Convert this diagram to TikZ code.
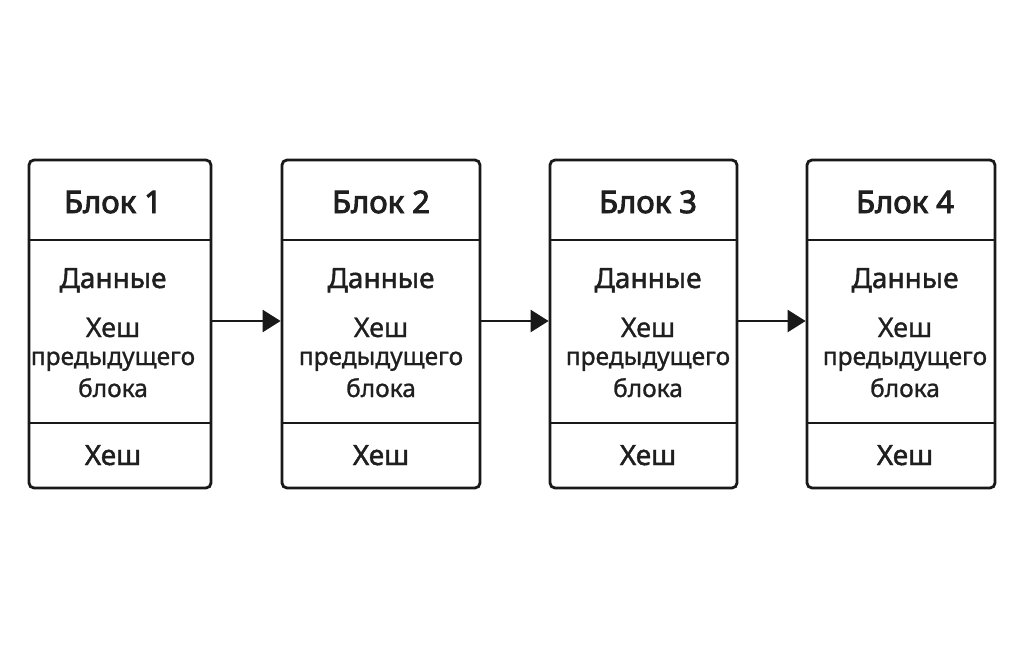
\documentclass[tikz,border=0pt]{standalone}
\usepackage{fontspec}
\setmainfont{Noto Sans}
\newfontfamily\titlefont{Noto Sans}[FakeBold=3]
\newfontfamily\medfont{Noto Sans}[FakeBold=1.6]
\newfontfamily\regfont{Noto Sans}[FakeBold=1.0]
\usetikzlibrary{arrows.meta}
\begin{document}
\begin{tikzpicture}[x=1pt,y=-1pt,
  blockbox/.style={draw=black!90, line width=2.8pt, rounded corners=5pt, inner sep=0pt},
  divider/.style={draw=black!90, line width=2.5pt},
  titletxt/.style={font=\titlefont\fontsize{31}{34}\selectfont, text=black!88, inner sep=0pt, anchor=base},
  datatxt/.style={font=\medfont\fontsize{28}{30}\selectfont, text=black!88, inner sep=0pt, anchor=base},
  hashtxt/.style={font=\regfont\fontsize{27}{30}\selectfont, text=black!88, inner sep=0pt, anchor=base},
  prevtxt/.style={font=\regfont\fontsize{24.5}{28}\selectfont, text=black!88, inner sep=0pt, anchor=base},
  link/.style={draw=black!90, line width=2.5pt, -{Triangle[length=18pt,width=22pt]}}]
\fill[white] (0,0) rectangle (1024,659);
\useasboundingbox (0,0) rectangle (1024,659);
% blocks: center x, width, text x
\foreach \i/\cx/\w/\tx in {1/120/182/113, 2/381/198/381, 3/643.5/187/648, 4/901/188/905}{
  \node[blockbox, minimum width=\w pt, minimum height=328pt] (b\i) at (\cx,324) {};
  \draw[divider] (b\i.west |- 0,240) -- (b\i.east |- 0,240);
  \draw[divider] (b\i.west |- 0,423) -- (b\i.east |- 0,423);
  \node[titletxt] (t\i) at (\tx,213) {Блок \i};
  \node[datatxt] (d\i) at (\tx,288) {Данные};
  \node[hashtxt] (h\i) at (\tx,337) {Хеш};
  \node[prevtxt] (p\i) at (\tx,365) {предыдущего};
  \node[prevtxt] (k\i) at (\tx,397) {блока};
  \node[datatxt] (f\i) at (\tx,465) {Хеш};
}
\draw[link] (b1.east |- 0,321) -- (b2.west |- 0,321);
\draw[link] (b2.east |- 0,321) -- (b3.west |- 0,321);
\draw[link] (b3.east |- 0,321) -- (b4.west |- 0,321);
\end{tikzpicture}
\end{document}
